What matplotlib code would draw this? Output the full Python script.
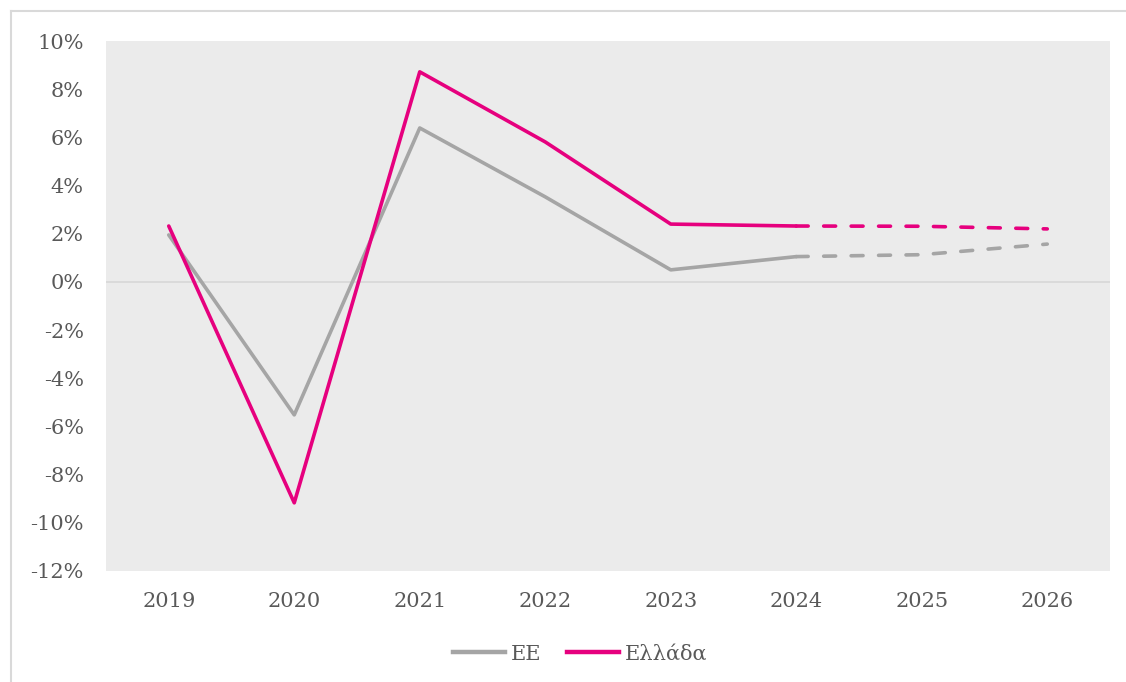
#!/usr/bin/env python3
"""GDP growth: EU vs Greece, 2019-2026 (dashed part = forecast)."""

import matplotlib.pyplot as plt
from matplotlib.lines import Line2D
from matplotlib.ticker import FuncFormatter

YEARS = ["2019", "2020", "2021", "2022", "2023", "2024", "2025", "2026"]
EU = [1.95, -5.52, 6.39, 3.53, 0.50, 1.05, 1.13, 1.57]
GREECE = [2.32, -9.17, 8.72, 5.81, 2.40, 2.32, 2.31, 2.20]
FORECAST_FROM = 5  # index of 2024, dashed after it

GREY = "#A5A5A5"
PINK = "#E6007E"
TEXT = "#595959"
FONT = "DejaVu Serif"


def main() -> None:
    fig = plt.figure(figsize=(11.26, 6.82), dpi=100)
    ax = fig.add_axes([106 / 1126, 1 - 571 / 682, 1004 / 1126, 530 / 682])
    ax.set_facecolor("#EBEBEB")

    x = list(range(len(YEARS)))
    k = FORECAST_FROM
    for vals, col in [(EU, GREY), (GREECE, PINK)]:
        ax.plot(x[: k + 1], vals[: k + 1], color=col, lw=2.6, solid_capstyle="round", zorder=3)
        ax.plot(x[k:], vals[k:], color=col, lw=2.6, dashes=(3.3, 4.3),
                dash_capstyle="round", zorder=3)

    ax.axhline(0, color="#D9D9D9", lw=1.3, zorder=1)
    ax.set_xlim(-0.5, len(YEARS) - 0.5)
    ax.set_ylim(-12, 10)
    ax.set_yticks(range(-12, 11, 2))
    ax.yaxis.set_major_formatter(FuncFormatter(lambda v, _: f"{v:.0f}%"))
    ax.set_xticks(x)
    ax.set_xticklabels(YEARS)
    for s in ax.spines.values():
        s.set_visible(False)
    ax.tick_params(length=0, labelsize=15, labelcolor=TEXT)
    ax.tick_params(axis="y", pad=16)
    ax.tick_params(axis="x", pad=15)
    for lab in ax.get_xticklabels() + ax.get_yticklabels():
        lab.set_fontfamily(FONT)

    handles = [Line2D([], [], color=GREY, lw=3.2), Line2D([], [], color=PINK, lw=3.2)]
    fig.legend(handles, ["EE", "Ελλάδα"], loc="center", bbox_to_anchor=(580 / 1126, 1 - 654 / 682),
               ncol=2, frameon=False, handlelength=2.5, handletextpad=0.3, columnspacing=1.2,
               prop={"family": FONT, "size": 15}, labelcolor=TEXT)

    # outer chart frame (left and top edges visible)
    fig.add_artist(Line2D([11 / 1126, 11 / 1126], [0, 1 - 11 / 682], color="#D9D9D9", lw=1.5))
    fig.add_artist(Line2D([11 / 1126, 1], [1 - 11 / 682, 1 - 11 / 682], color="#D9D9D9", lw=1.5))

    fig.savefig("out.png", dpi=100, facecolor="white")
    plt.close(fig)


if __name__ == "__main__":
    main()
